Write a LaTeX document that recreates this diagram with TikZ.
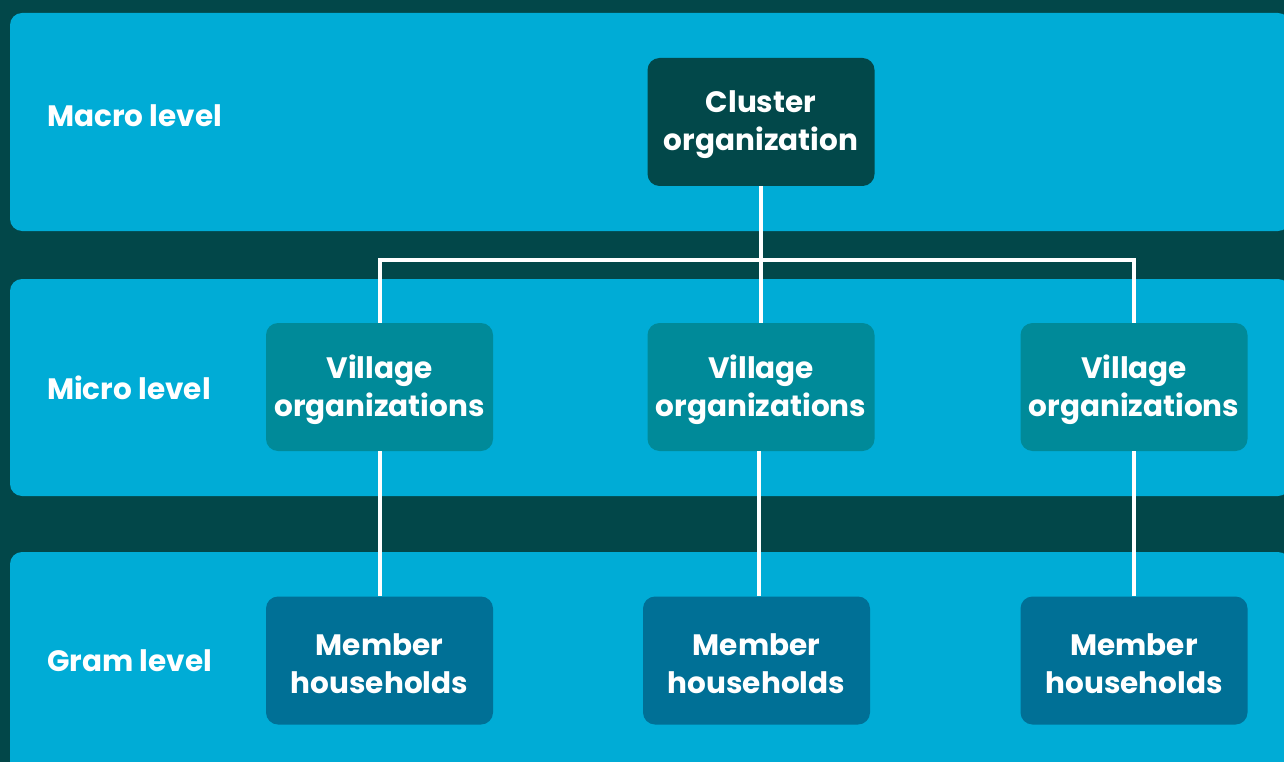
\documentclass[tikz,border=0pt]{standalone}
\usepackage{fontspec}
\setmainfont{Poppins}
\begin{document}
\definecolor{bgdark}{HTML}{024749}
\definecolor{band}{HTML}{00ACD6}
\definecolor{clusterc}{HTML}{02484A}
\definecolor{villagec}{HTML}{008A99}
\definecolor{memberc}{HTML}{007096}
\begin{tikzpicture}[x=1pt,y=-1pt,
  lvl/.style={anchor=west,text=white,inner sep=0pt,font=\fontsize{29.5}{34}\selectfont\bfseries},
  boxtext/.style={text=white,align=center,inner sep=0pt,yshift=-3pt,
    font=\fontsize{29.5}{38}\selectfont\bfseries},
  box/.style={rounded corners=12pt,minimum width=227pt,minimum height=128pt,
    inner sep=0pt,label={[boxtext]center:#1}},
  link/.style={draw=white,line width=4pt}]
  % background and level bands
  \fill[bgdark] (0,0) rectangle (1284,762);
  \useasboundingbox (0,0) rectangle (1284,762);
  \fill[band,rounded corners=12pt] (10,13) rectangle (1290,231);
  \fill[band,rounded corners=12pt] (10,279) rectangle (1290,496);
  \fill[band,rounded corners=12pt] (10,552) rectangle (1290,790);
  % level labels
  \node[lvl] (lmacro) at (47,116) {Macro level};
  \node[lvl] (lmicro) at (47,388) {Micro level};
  \node[lvl] (lgram) at (47,661) {Gram level};
  % boxes of the three levels
  \coordinate (bar) at (761,260);
  \node[box={Cluster\\organization},fill=clusterc] (c) at (761,122) {};
  \node[box={Village\\organizations},fill=villagec] (v1) at (379.5,387) {};
  \node[box={Village\\organizations},fill=villagec] (v2) at (761,387) {};
  \node[box={Village\\organizations},fill=villagec] (v3) at (1134,387) {};
  \node[box={Member\\households},fill=memberc] (m1) at (379.5,660.5) {};
  \node[box={Member\\households},fill=memberc] (m2) at (756.5,660.5) {};
  \node[box={Member\\households},fill=memberc] (m3) at (1134,660.5) {};
  % connectors
  \draw[link] (c.south) -- (v2.north);
  \draw[link] (v1.north) |- (bar) -| (v3.north);
  \draw[link] (v1.south) -- (m1.north);
  \draw[link] (v2.south -| 759,0) -- (m2.north -| 759,0);
  \draw[link] (v3.south) -- (m3.north);
\end{tikzpicture}
\end{document}
